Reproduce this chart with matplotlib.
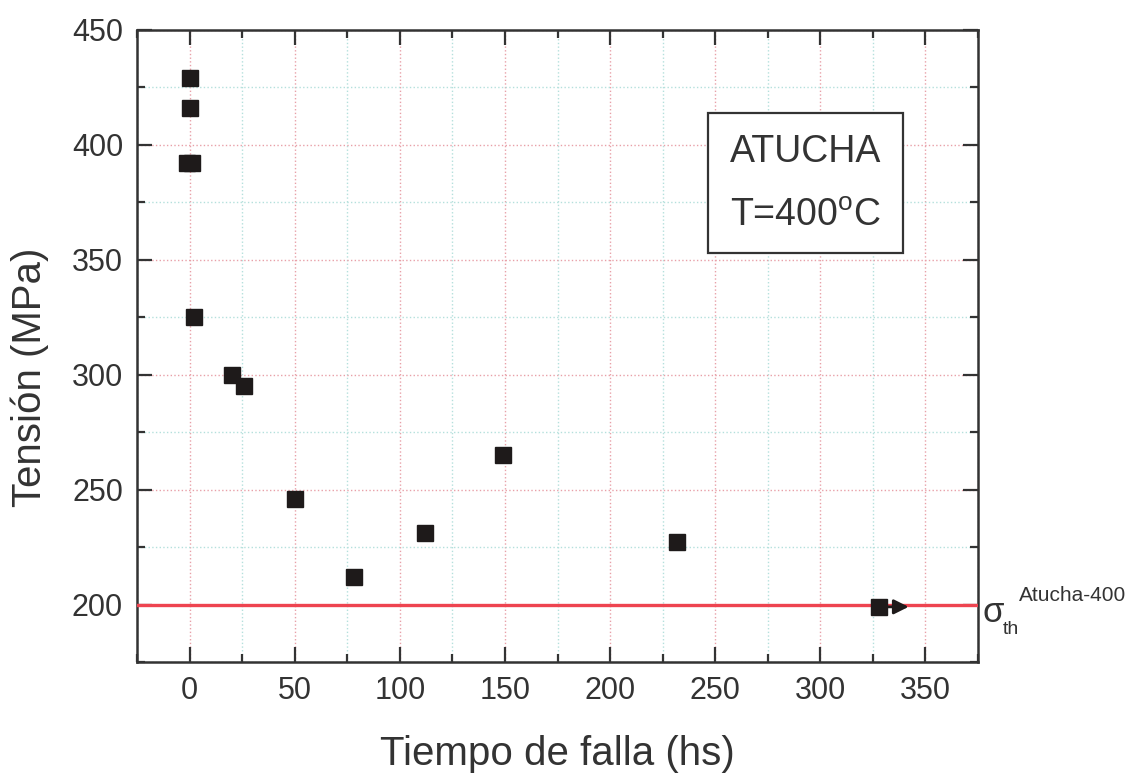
import matplotlib
matplotlib.use("Agg")
import matplotlib.pyplot as plt
from matplotlib.patches import Rectangle
from matplotlib.ticker import MultipleLocator

plt.rcParams['font.family'] = ['Liberation Sans', 'DejaVu Sans']
plt.rcParams['mathtext.fontset'] = 'custom'
plt.rcParams['mathtext.rm'] = 'Liberation Sans'
plt.rcParams['mathtext.it'] = 'Liberation Sans'

# data
tiempo = [0, 0, -1, 1, 2, 20, 26, 50, 78, 112, 149, 232, 328]
tension = [429, 416, 392, 392, 325, 300, 295, 246, 212, 231, 265, 227, 199]
sigma_th = 200
runout_end = 342

W, H = 1133, 776
fig = plt.figure(figsize=(W / 100, H / 100), dpi=100)
ax = fig.add_axes([137 / W, 1 - 662 / H, (978 - 137) / W, (662 - 30) / H])

ax.set_xlim(-25, 375)
ax.set_ylim(175, 450)
ax.xaxis.set_major_locator(MultipleLocator(50))
ax.xaxis.set_minor_locator(MultipleLocator(25))
ax.yaxis.set_major_locator(MultipleLocator(50))
ax.yaxis.set_minor_locator(MultipleLocator(25))

ax.grid(which='major', color='#e8a0a8', linestyle=':', linewidth=1.0)
ax.grid(which='minor', color='#b4e0dc', linestyle=':', linewidth=1.0)
ax.set_axisbelow(True)

ax.tick_params(which='both', direction='in', top=True, right=True,
               width=1.6, colors='#333333', labelsize=22, labelcolor='#333333')
ax.tick_params(which='major', length=11, pad=10)
ax.tick_params(which='minor', length=6)
for s in ax.spines.values():
    s.set_linewidth(1.8)
    s.set_color('#333333')

ax.axhline(sigma_th, color='#ee4450', linewidth=2.4, zorder=3)

ax.plot(tiempo, tension, 's', color='#1e1a1a', markersize=11.5, zorder=5)
ax.annotate('', xy=(runout_end, tension[-1]), xytext=(tiempo[-1], tension[-1]),
            arrowprops=dict(arrowstyle='-|>', color='#1e1a1a', lw=2,
                            mutation_scale=22, shrinkA=0, shrinkB=0),
            zorder=5)

ax.set_xlabel('Tiempo de falla (hs)', fontsize=29, color='#333333')
ax.set_ylabel('Tensión (MPa)', fontsize=29, color='#333333')
ax.xaxis.set_label_coords(0.5, -0.115)
ax.yaxis.set_label_coords(-0.105, 0.45)

# annotation box
ax.add_patch(Rectangle((0.679, 0.647), 0.232, 0.222, transform=ax.transAxes,
                       facecolor='white', edgecolor='#333333', linewidth=1.6,
                       zorder=6))
ax.text(0.795, 0.807, 'ATUCHA', transform=ax.transAxes, ha='center',
        va='center', fontsize=27, color='#333333', zorder=7)
ax.text(0.795, 0.705, r'T=400$^\mathrm{o}$C', transform=ax.transAxes,
        ha='center', va='center', fontsize=27, color='#333333', zorder=7)

# threshold label outside the axes
fig.text(982 / W, 1 - 622 / H, 'σ', fontsize=25, color='#333333', va='baseline')
fig.text(1003 / W, 1 - 634 / H, 'th', fontsize=14, color='#333333', va='baseline')
fig.text(1019 / W, 1 - 601 / H, 'Atucha-400', fontsize=15, color='#333333',
         va='baseline')

fig.savefig('out.png', dpi=100)
